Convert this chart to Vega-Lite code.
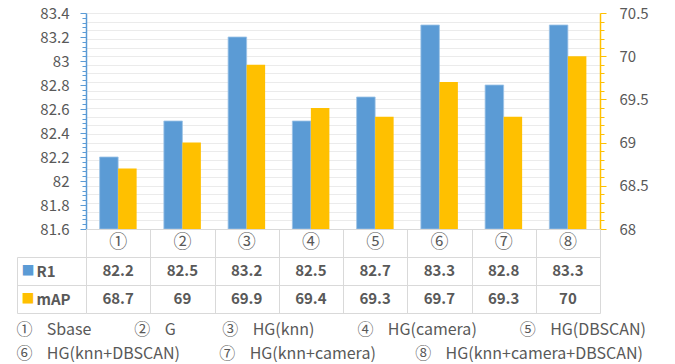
{
  "$schema": "https://vega.github.io/schema/vega-lite/v6.json",
  "padding": {"left": 16, "top": 6, "right": 5, "bottom": 0},
  "config": {"font": "Noto Sans CJK SC", "view": {"stroke": null}},
  "bounds": "flush",
  "data": {"values": [
    {"cat": "①", "series": "R1", "value": 82.2}, {"cat": "①", "series": "mAP", "value": 68.7},
    {"cat": "②", "series": "R1", "value": 82.5}, {"cat": "②", "series": "mAP", "value": 69},
    {"cat": "③", "series": "R1", "value": 83.2}, {"cat": "③", "series": "mAP", "value": 69.9},
    {"cat": "④", "series": "R1", "value": 82.5}, {"cat": "④", "series": "mAP", "value": 69.4},
    {"cat": "⑤", "series": "R1", "value": 82.7}, {"cat": "⑤", "series": "mAP", "value": 69.3},
    {"cat": "⑥", "series": "R1", "value": 83.3}, {"cat": "⑥", "series": "mAP", "value": 69.7},
    {"cat": "⑦", "series": "R1", "value": 82.8}, {"cat": "⑦", "series": "mAP", "value": 69.3},
    {"cat": "⑧", "series": "R1", "value": 83.3}, {"cat": "⑧", "series": "mAP", "value": 70}
  ]},
  "title": {
    "text": [
      "①\u00a0\u00a0\u00a0\u00a0Sbase\u00a0\u00a0\u00a0\u00a0\u00a0\u00a0\u00a0\u00a0\u00a0\u00a0\u00a0\u00a0②\u00a0\u00a0\u00a0\u00a0G\u00a0\u00a0\u00a0\u00a0\u00a0\u00a0\u00a0\u00a0\u00a0\u00a0\u00a0\u00a0\u00a0③\u00a0\u00a0\u00a0\u00a0HG(knn)\u00a0\u00a0\u00a0\u00a0\u00a0\u00a0\u00a0\u00a0\u00a0\u00a0\u00a0\u00a0④\u00a0\u00a0\u00a0\u00a0HG(camera)\u00a0\u00a0\u00a0\u00a0\u00a0\u00a0\u00a0\u00a0\u00a0\u00a0\u00a0\u00a0⑤\u00a0\u00a0\u00a0\u00a0HG(DBSCAN)",
      "⑥\u00a0\u00a0\u00a0\u00a0HG(knn+DBSCAN)\u00a0\u00a0\u00a0\u00a0\u00a0\u00a0\u00a0\u00a0\u00a0\u00a0\u00a0⑦\u00a0\u00a0\u00a0\u00a0HG(knn+camera)\u00a0\u00a0\u00a0\u00a0\u00a0\u00a0\u00a0\u00a0\u00a0\u00a0\u00a0⑧\u00a0\u00a0\u00a0\u00a0HG(knn+camera+DBSCAN)"
    ],
    "orient": "bottom", "anchor": "start", "frame": "bounds",
    "fontSize": 16, "fontWeight": "normal", "color": "#595959", "lineHeight": 24, "offset": 8
  },
  "spacing": 0,
  "vconcat": [
    {
      "width": 514, "height": 216,
      "encoding": {
        "x": {"field": "cat", "type": "nominal", "scale": {"domain": ["①","②","③","④","⑤","⑥","⑦","⑧"], "paddingInner": 0, "paddingOuter": 0}, "axis": null},
        "xOffset": {"field": "series", "type": "nominal", "scale": {"domain": ["R1", "mAP"], "paddingInner": 0, "paddingOuter": 0.736}}
      },
      "layer": [
        {
          "transform": [{"filter": "datum.series === 'R1'"}],
          "mark": {"type": "bar", "color": "#5B9BD5", "stroke": "#9DC3E6", "strokeWidth": 0.8},
          "encoding": {
            "y": {"field": "value", "type": "quantitative", "scale": {"domain": [81.6, 83.4], "zero": false, "nice": false},
              "axis": {
                "values": [81.6, 81.64, 81.68, 81.72, 81.76, 81.8, 81.84, 81.88, 81.92, 81.96, 82, 82.04, 82.08, 82.12, 82.16, 82.2, 82.24, 82.28, 82.32, 82.36, 82.4, 82.44, 82.48, 82.52, 82.56, 82.6, 82.64, 82.68, 82.72, 82.76, 82.8, 82.84, 82.88, 82.92, 82.96, 83, 83.04, 83.08, 83.12, 83.16, 83.2, 83.24, 83.28, 83.32, 83.36, 83.4],
                "labelExpr": "round(datum.value*100) % 20 === 0 ? format(datum.value, '.4~g') : ''",
                "tickSize": {"condition": {"test": "round(datum.value*100) % 20 === 0", "value": 6}, "value": 4},
                "tickColor": "#5B9BD5", "domainColor": "#5B9BD5", "domainWidth": 1.5,
                "grid": false, "labelOverlap": false, "labelFlush": false,
                "labelFontSize": 15, "labelColor": "#595959", "labelPadding": 11, "title": null
              }
            },
            "y2": {"datum": 81.6}
          }
        },
        {
          "transform": [{"filter": "datum.series === 'mAP'"}],
          "mark": {"type": "bar", "color": "#FFC000"},
          "encoding": {
            "y": {"field": "value", "type": "quantitative", "scale": {"domain": [68, 70.5], "zero": false, "nice": false},
              "axis": {
                "orient": "right",
                "values": [68, 68.1, 68.2, 68.3, 68.4, 68.5, 68.6, 68.7, 68.8, 68.9, 69, 69.1, 69.2, 69.3, 69.4, 69.5, 69.6, 69.7, 69.8, 69.9, 70, 70.1, 70.2, 70.3, 70.4, 70.5],
                "labelExpr": "round(datum.value*10) % 5 === 0 ? format(datum.value, '.4~g') : ''",
                "tickSize": {"condition": {"test": "round(datum.value*10) % 5 === 0", "value": 6}, "value": 4},
                "tickColor": "#FFC000", "domainColor": "#FFC000", "domainWidth": 1.5,
                "grid": true, "gridColor": "#ebebeb",
                "labelOverlap": false, "labelFlush": false,
                "labelFontSize": 15, "labelColor": "#595959", "labelPadding": 13, "title": null
              }
            },
            "y2": {"datum": 68}
          }
        }
      ],
      "resolve": {"scale": {"y": "independent"}}
    },
    {
      "width": 514, "height": 84,
      "layer": [
        {
          "mark": {"type": "text", "fontWeight": "bold", "fontSize": 15, "color": "#595959"},
          "encoding": {
            "x": {"field": "cat", "type": "nominal", "scale": {"domain": ["①","②","③","④","⑤","⑥","⑦","⑧"], "paddingInner": 0, "paddingOuter": 0},
              "axis": {"tickBand": "extent", "grid": true, "gridColor": "#d9d9d9", "ticks": false, "labels": false, "domain": false, "title": null}},
            "y": {"field": "series", "type": "nominal", "scale": {"domain": ["hdr", "R1", "mAP"], "paddingInner": 0, "paddingOuter": 0},
              "axis": {
                "tickBand": "extent", "grid": true, "gridColor": "#d9d9d9",
                "ticks": true, "tickSize": 69,
                "tickColor": {"condition": {"test": "datum.index < 0", "value": "transparent"}, "value": "#d9d9d9"},
                "domain": false,
                "labelExpr": "datum.value === 'hdr' ? '' : datum.value",
                "labelAlign": "left", "labelPadding": -19,
                "labelFontWeight": "bold", "labelFontSize": 15, "labelColor": "#595959", "title": null
              }
            },
            "text": {"field": "value", "type": "quantitative", "format": "~g"}
          }
        },
        {
          "transform": [{"filter": "datum.series === 'R1'"}],
          "mark": {"type": "text", "fontSize": 18, "color": "#595959"},
          "encoding": {
            "x": {"field": "cat", "type": "nominal"},
            "y": {"datum": "hdr", "type": "nominal",
              "axis": {
                "orient": "left", "offset": 69, "ticks": false, "tickSize": 0, "grid": false,
                "domain": true, "domainColor": "#d9d9d9", "domainDash": [0, 28, 56],
                "labelExpr": "(datum.value === 'R1' || datum.value === 'mAP') ? '■' : ''",
                "labelColor": {"condition": {"test": "datum.value === 'R1'", "value": "#5B9BD5"}, "value": "#FFC000"},
                "labelAlign": "center", "labelPadding": -10.5, "labelFontSize": 13, "title": null
              }
            },
            "text": {"field": "cat"}
          }
        }
      ],
      "resolve": {"axis": {"y": "independent"}}
    }
  ]
}
